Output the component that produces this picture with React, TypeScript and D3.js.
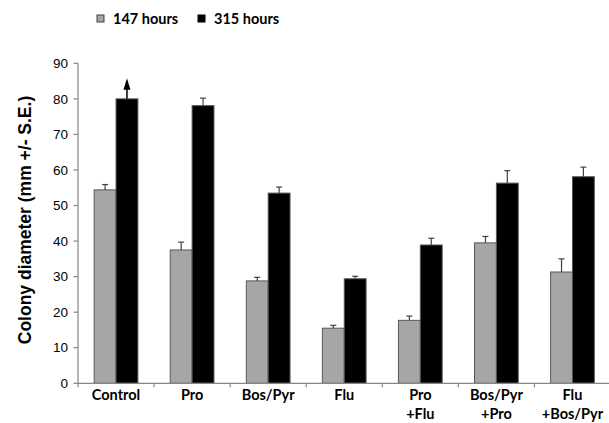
import React from "react";
import * as d3 from "d3";

const categories = ["Control", "Pro", "Bos/Pyr", "Flu", "Pro\n+Flu", "Bos/Pyr\n+Pro", "Flu\n+Bos/Pyr"];
const series = ["147 hours", "315 hours"];
const values147 = [54.4, 37.5, 28.8, 15.5, 17.7, 39.5, 31.3];
const err147 = [1.5, 2.2, 1.0, 0.8, 1.2, 1.8, 3.7];
const values315 = [80, 78.1, 53.5, 29.4, 38.9, 56.3, 58.1];
const err315 = [0, 2.1, 1.7, 0.7, 1.9, 3.5, 2.7];
const yTicks = [0, 10, 20, 30, 40, 50, 60, 70, 80, 90];

const W = 609, H = 423;
const left = 78, right = 610.5, top = 63.3, bottom = 383.3;

export default function App() {
  const x = d3.scaleBand<string>().domain(categories).range([left, right]).paddingInner(0).paddingOuter(0);
  const y = d3.scaleLinear().domain([0, 90]).range([bottom, top]);
  const bw = x.bandwidth();
  const barW = bw * 0.2875;
  const fills = ["#a6a6a6", "#000000"];
  const data = [
    { v: values147, e: err147 },
    { v: values315, e: err315 },
  ];
  const axisColor = "#868686";
  return (
    <svg width={W} height={H} style={{ position: "absolute", left: 0, top: 0, background: "#fff" }}>
      {/* legend */}
      <g fontFamily="Lato, 'Open Sans', sans-serif" fontWeight={700} fontSize={14.5}>
        <rect x={97} y={15} width={7} height={7} fill="#a6a6a6" stroke="#404040" strokeWidth={1} />
        <text x={113} y={23.5}>{series[0]}</text>
        <rect x={198} y={15} width={7} height={7} fill="#000" stroke="#000" strokeWidth={1} />
        <text x={214} y={23.5}>{series[1]}</text>
      </g>
      {/* y axis title */}
      <text
        transform={`translate(31,${220}) rotate(-90)`}
        textAnchor="middle"
        fontFamily="'Liberation Sans', Arial, sans-serif"
        fontWeight={700}
        fontSize={17.5}
      >
        Colony diameter (mm +/- S.E.)
      </text>
      {/* bars */}
      {categories.map((c, i) => {
        const x0 = (x(c) as number) + (bw - 2 * barW) / 2;
        return (
          <g key={c}>
            {data.map((s, k) => {
              const bx = x0 + k * barW;
              const by = y(s.v[i]);
              const cx = bx + barW / 2;
              return (
                <g key={k}>
                  <rect x={bx} y={by} width={barW} height={bottom - by} fill={fills[k]} stroke="#595959" strokeWidth={1} />
                  {s.e[i] > 0 && (
                    <g stroke="#404040" strokeWidth={1.2}>
                      <line x1={cx} x2={cx} y1={by} y2={y(s.v[i] + s.e[i])} />
                      <line x1={cx - 3} x2={cx + 3} y1={y(s.v[i] + s.e[i])} y2={y(s.v[i] + s.e[i])} />
                    </g>
                  )}
                  {i === 0 && k === 1 && (
                    <g>
                      <line x1={cx} x2={cx} y1={by} y2={by - 10} stroke="#000" strokeWidth={1.5} />
                      <path d={`M${cx - 3.5},${by - 9} L${cx + 3.5},${by - 9} L${cx},${by - 20.5} Z`} fill="#000" />
                    </g>
                  )}
                </g>
              );
            })}
          </g>
        );
      })}
      {/* y axis */}
      <line x1={left} x2={left} y1={top} y2={bottom} stroke={axisColor} strokeWidth={1.2} />
      {yTicks.map((t) => (
        <g key={t}>
          <line x1={left - 4.5} x2={left} y1={y(t)} y2={y(t)} stroke={axisColor} strokeWidth={1.2} />
          <text
            x={left - 10}
            y={y(t)}
            dy="0.35em"
            textAnchor="end"
            fontFamily="'Liberation Sans', Arial, sans-serif"
            fontSize={13.5}
            fill="#000"
          >
            {t}
          </text>
        </g>
      ))}
      {/* x axis */}
      <line x1={left} x2={right} y1={bottom} y2={bottom} stroke={axisColor} strokeWidth={1.2} />
      {categories.map((c) => (
        <line key={c} x1={x(c) as number} x2={x(c) as number} y1={bottom} y2={bottom + 4} stroke={axisColor} strokeWidth={1.2} />
      ))}
      {categories.map((c) => {
        const lines = c.split("\n");
        const cx = (x(c) as number) + bw / 2;
        return (
          <text key={c} textAnchor="middle" fontFamily="Lato, 'Open Sans', sans-serif" fontWeight={700} fontSize={14.5}>
            {lines.map((l, j) => (
              <tspan key={j} x={cx} y={bottom + 17 + j * 18.5}>
                {l}
              </tspan>
            ))}
          </text>
        );
      })}
    </svg>
  );
}
